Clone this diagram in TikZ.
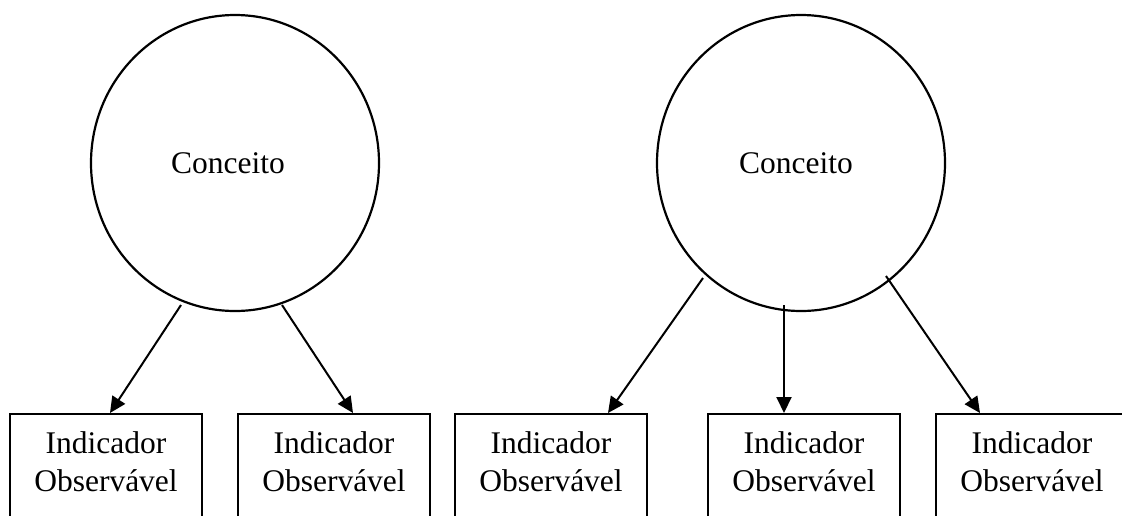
\documentclass[tikz,border=0pt]{standalone}
\usepackage{fontspec}
\setmainfont{Liberation Serif}
\usetikzlibrary{arrows.meta,shapes.geometric}

\tikzset{
  concept/.style={draw, line width=2.2pt, ellipse, minimum width=288pt, minimum height=296pt, inner sep=0pt},
  indbox/.style={draw, line width=2.2pt, rectangle, anchor=north, minimum width=192pt, minimum height=130pt, inner sep=0pt},
  indtext/.style={anchor=base, inner sep=0pt, font=\fontsize{31.5}{38}\selectfont},
  arr/.style={line width=2pt, -{Triangle[length=16pt,width=15pt]}},
}

\begin{document}
\begin{tikzpicture}[x=1pt, y=-1pt, font=\fontsize{31.5}{38}\selectfont]
  \useasboundingbox (0,0) rectangle (1122,515);
  \clip (0,0) rectangle (1122,515);

  % concepts
  \node[concept, label={[xshift=-7pt, inner sep=0pt]center:Conceito}] (c1) at (235,163) {};
  \node[concept, label={[xshift=-5pt, inner sep=0pt]center:Conceito}] (c2) at (801,163) {};

  % observed indicators (boxes run past the lower edge)
  \foreach \n/\x in {b1/106, b2/334, b3/551, b4/804, b5/1032} {
    \node[indbox] (\n) at (\x,413) {};
    \node[indtext] at ([yshift=-40pt]\n.north)
      {\begin{tabular}[t]{@{}c@{}}Indicador\\Observável\end{tabular}};
  }

  % arrow ends
  \coordinate (s1) at (181,305);  \coordinate (t1) at (110,413);
  \coordinate (s2) at (282,305);  \coordinate (t2) at (353,413);
  \coordinate (s3) at (703,278);  \coordinate (t3) at (608,413);
  \coordinate (s4) at (784,305);  \coordinate (t4) at (784,413);
  \coordinate (s5) at (886,276);  \coordinate (t5) at (980,413);

  \draw[arr] (s1) -- (t1);
  \draw[arr] (s2) -- (t2);
  \draw[arr] (s3) -- (t3);
  \draw[arr] (s4) -- (t4);
  \draw[arr] (s5) -- (t5);
\end{tikzpicture}
\end{document}
